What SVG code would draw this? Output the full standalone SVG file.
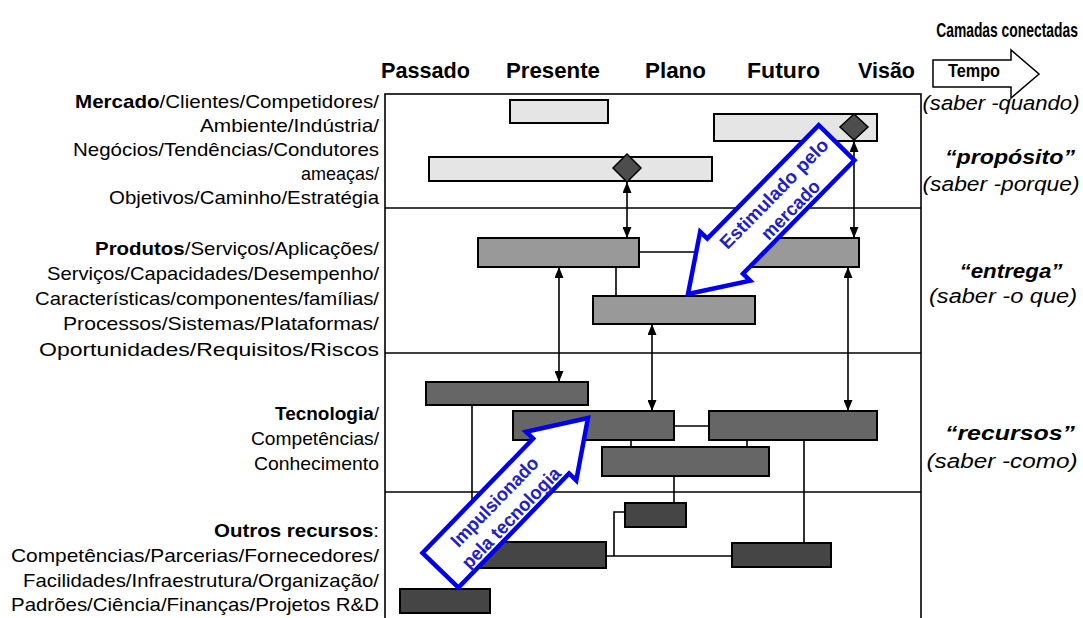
<svg xmlns="http://www.w3.org/2000/svg" width="1083" height="618" viewBox="0 0 1083 618">
<style>
text{font-family:"Liberation Sans",Arial,sans-serif;fill:#000}
.lt{font-size:19px;text-anchor:end}
.b{font-weight:bold}
.hd{font-size:22px;font-weight:bold}
.rt{font-size:20px;font-style:italic;text-anchor:middle}
.rb{font-size:20px;font-style:italic;font-weight:bold;text-anchor:middle}
.bar{stroke:#000;stroke-width:2}
.mk{fill:#e5e5e5}.pr{fill:#999}.tc{fill:#666}.ot{fill:#454545}
.dia{fill:#4d4d4d;stroke:#000;stroke-width:1.5}
.con{fill:none;stroke:#000;stroke-width:1.6}
.arr{fill:none;stroke:#000;stroke-width:1.6;marker-start:url(#ah);marker-end:url(#ah)}
.big{fill:#fff;stroke:#0000f0;stroke-width:4.5;stroke-linejoin:miter}
.bt{font-size:19px;font-weight:bold;fill:#2020c8;text-anchor:middle}
</style>
<defs>
<marker id="ah" viewBox="0 0 11 9" refX="11" refY="4.5" markerWidth="11" markerHeight="9" markerUnits="userSpaceOnUse" orient="auto-start-reverse">
<path d="M0,0 L11,4.5 L0,9 z" fill="#000"/>
</marker>
<polygon id="bigarrow" points="0,0 -53,-35 -53,-25 -212,-25 -212,25 -53,25 -53,35"/>
</defs>
<rect width="1083" height="618" fill="#fff"/>

<g id="header">
<text class="b" font-size="21" transform="translate(1007,37) scale(0.66,1)" text-anchor="middle">Camadas conectadas</text>
<text class="hd" x="381" y="78" textLength="89" lengthAdjust="spacingAndGlyphs">Passado</text>
<text class="hd" x="506" y="78" textLength="94" lengthAdjust="spacingAndGlyphs">Presente</text>
<text class="hd" x="645" y="78" textLength="61" lengthAdjust="spacingAndGlyphs">Plano</text>
<text class="hd" x="747" y="78" textLength="73" lengthAdjust="spacingAndGlyphs">Futuro</text>
<text class="hd" x="858" y="78" textLength="57" lengthAdjust="spacingAndGlyphs">Visão</text>
</g>
<g id="tempo">
<polygon points="933,60 1011,60 1011,50 1039,74 1011,98 1011,87 933,87" fill="#fff" stroke="#000" stroke-width="1.5"/>
<text class="b" x="948" y="77" font-size="18" textLength="52" lengthAdjust="spacingAndGlyphs">Tempo</text>
</g>

<g id="frame">
<rect x="385" y="94" width="536" height="540" fill="none" stroke="#000" stroke-width="1.6"/>
<line x1="385" y1="208" x2="921" y2="208" stroke="#000" stroke-width="1.6"/>
<line x1="385" y1="353" x2="921" y2="353" stroke="#000" stroke-width="1.6"/>
<line x1="385" y1="492" x2="921" y2="492" stroke="#000" stroke-width="1.6"/>
</g>

<g id="label-mercado">
<text class="lt" x="379" y="108" textLength="304" lengthAdjust="spacingAndGlyphs"><tspan class="b">Mercado</tspan>/Clientes/Competidores/</text>
<text class="lt" x="379" y="132" textLength="179" lengthAdjust="spacingAndGlyphs">Ambiente/Indústria/</text>
<text class="lt" x="379" y="156" textLength="306" lengthAdjust="spacingAndGlyphs">Negócios/Tendências/Condutores</text>
<text class="lt" x="379" y="180" textLength="78" lengthAdjust="spacingAndGlyphs">ameaças/</text>
<text class="lt" x="379" y="204" textLength="270" lengthAdjust="spacingAndGlyphs">Objetivos/Caminho/Estratégia</text>
</g>
<g id="label-produtos">
<text class="lt" x="379" y="255" textLength="284" lengthAdjust="spacingAndGlyphs"><tspan class="b">Produtos</tspan>/Serviços/Aplicações/</text>
<text class="lt" x="379" y="280" textLength="332" lengthAdjust="spacingAndGlyphs">Serviços/Capacidades/Desempenho/</text>
<text class="lt" x="379" y="305" textLength="344" lengthAdjust="spacingAndGlyphs">Características/componentes/famílias/</text>
<text class="lt" x="379" y="330" textLength="316" lengthAdjust="spacingAndGlyphs">Processos/Sistemas/Plataformas/</text>
<text class="lt" x="379" y="356" textLength="340" lengthAdjust="spacingAndGlyphs">Oportunidades/Requisitos/Riscos</text>
</g>
<g id="label-tecnologia">
<text class="lt" x="379" y="420" textLength="104" lengthAdjust="spacingAndGlyphs"><tspan class="b">Tecnologia</tspan>/</text>
<text class="lt" x="379" y="445" textLength="128" lengthAdjust="spacingAndGlyphs">Competências/</text>
<text class="lt" x="379" y="470" textLength="125" lengthAdjust="spacingAndGlyphs">Conhecimento</text>
</g>
<g id="label-outros">
<text class="lt" x="379" y="537" textLength="165" lengthAdjust="spacingAndGlyphs"><tspan class="b">Outros recursos</tspan>:</text>
<text class="lt" x="379" y="562" textLength="368" lengthAdjust="spacingAndGlyphs">Competências/Parcerias/Fornecedores/</text>
<text class="lt" x="379" y="587" textLength="356" lengthAdjust="spacingAndGlyphs">Facilidades/Infraestrutura/Organização/</text>
<text class="lt" x="379" y="611" textLength="368" lengthAdjust="spacingAndGlyphs">Padrões/Ciência/Finanças/Projetos R&amp;D</text>
</g>

<g id="right-labels">
<text class="rt" x="1001" y="110" textLength="157" lengthAdjust="spacingAndGlyphs">(saber -quando)</text>
<text class="rb" x="1010" y="164" textLength="130" lengthAdjust="spacingAndGlyphs">“propósito”</text>
<text class="rt" x="1001" y="191" textLength="157" lengthAdjust="spacingAndGlyphs">(saber -porque)</text>
<text class="rb" x="1011" y="278" textLength="103" lengthAdjust="spacingAndGlyphs">“entrega”</text>
<text class="rt" x="1003" y="303" textLength="148" lengthAdjust="spacingAndGlyphs">(saber -o que)</text>
<text class="rb" x="1010" y="440" textLength="130" lengthAdjust="spacingAndGlyphs">“recursos”</text>
<text class="rt" x="1002" y="468" textLength="151" lengthAdjust="spacingAndGlyphs">(saber -como)</text>
</g>

<g id="bars-mercado">
<rect id="m1" class="bar mk" x="510" y="100" width="98" height="23"/>
<rect id="m2" class="bar mk" x="714" y="114" width="163" height="27"/>
<rect id="m3" class="bar mk" x="429" y="157" width="283" height="24"/>
</g>
<g id="bars-produtos">
<rect id="p1" class="bar pr" x="478" y="238" width="161" height="29"/>
<rect id="p2" class="bar pr" x="593" y="296" width="162" height="28"/>
<rect id="p3" class="bar pr" x="742" y="238" width="117" height="29"/>
</g>
<g id="bars-tecnologia">
<rect id="t1" class="bar tc" x="426" y="382" width="162" height="23"/>
<rect id="t2" class="bar tc" x="513" y="411" width="161" height="29"/>
<rect id="t3" class="bar tc" x="709" y="411" width="168" height="29"/>
<rect id="t4" class="bar tc" x="602" y="447" width="167" height="29"/>
</g>
<g id="bars-outros">
<rect id="o1" class="bar ot" x="625" y="503" width="61" height="24"/>
<rect id="o2" class="bar ot" x="466" y="542" width="140" height="26"/>
<rect id="o3" class="bar ot" x="732" y="543" width="99" height="24"/>
<rect id="o4" class="bar ot" x="400" y="589" width="90" height="24"/>
</g>

<g id="connectors">
<path class="con" d="M639,252 H742"/>
<path class="con" d="M616,267 V296"/>
<path class="con" d="M674,426 H709"/>
<path class="con" d="M631,440 V447"/>
<path class="con" d="M747,440 V447"/>
<path class="con" d="M472,405 V542"/>
<path class="con" d="M674,476 V503"/>
<path class="con" d="M804,440 V543"/>
<path class="con" d="M606,556 H732"/>
<path class="con" d="M625,512 H614 V556"/>
<path class="arr" d="M627,182 V238"/>
<path class="arr" d="M854,141 V238"/>
<path class="arr" d="M559,267 V382"/>
<path class="arr" d="M652,324 V411"/>
<path class="arr" d="M848,267 V411"/>
</g>

<g id="milestones">
<polygon class="dia" points="627,154 641,168 627,182 613,168"/>
<polygon class="dia" points="854,114 868,127 854,140 840,127"/>
</g>

<g id="arrow-mercado">
<use href="#bigarrow" class="big" transform="translate(688,294) rotate(134.5)"/>
<g transform="translate(783,202.5) rotate(-45.5)">
<text class="bt" x="0" y="-6" textLength="146" lengthAdjust="spacingAndGlyphs">Estimulado pelo</text>
<text class="bt" x="0" y="17" textLength="75" lengthAdjust="spacingAndGlyphs">mercado</text>
</g>
</g>
<g id="arrow-tecnologia">
<use href="#bigarrow" class="big" transform="translate(588,418) rotate(-45.9)"/>
<g transform="translate(503.5,510.5) rotate(-45.9)">
<text class="bt" x="0" y="-6" textLength="117" lengthAdjust="spacingAndGlyphs">Impulsionado</text>
<text class="bt" x="0" y="17" textLength="133" lengthAdjust="spacingAndGlyphs">pela tecnologia</text>
</g>
</g>
</svg>
